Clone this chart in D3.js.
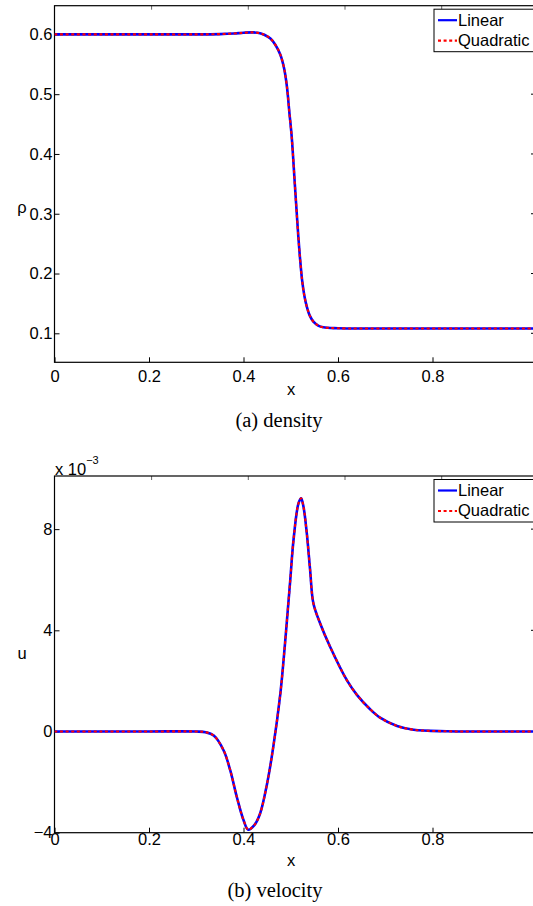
<!DOCTYPE html>
<html lang="en">
  <head>
    <meta charset="utf-8" />
    <title>Density and velocity</title>
    <script src="https://cdn.jsdelivr.net/npm/d3@7"></script>
    <style>
      body { margin: 0; background: #fff; }
      text { font-family: Helvetica, Arial, "Liberation Sans", sans-serif; font-size: 16.5px; fill: #000; }
      .caption { font-family: "Liberation Serif", "Times New Roman", serif; font-size: 20.5px; }
    </style>
  </head>

  <body>
    <script>
      // data
      const seriesNames = ["Linear", "Quadratic"];
      const xTicks = [0, 0.2, 0.4, 0.6, 0.8];

      const rhoX = [0, 0.1, 0.2, 0.3, 0.35, 0.38, 0.4, 0.42, 0.435, 0.445, 0.457, 0.467, 0.478, 0.486,
        0.492, 0.497, 0.502, 0.509, 0.516, 0.52, 0.524, 0.529, 0.534, 0.54, 0.548, 0.558, 0.569, 0.6,
        0.7, 0.8, 0.9, 1.03];
      const rhoLinear = [0.6, 0.6, 0.6, 0.6, 0.6005, 0.6015, 0.6027, 0.6033, 0.602, 0.599, 0.593, 0.583,
        0.566, 0.543, 0.512, 0.47, 0.429, 0.345, 0.262, 0.222, 0.189, 0.162, 0.1445, 0.13, 0.1194, 0.113,
        0.110, 0.1085, 0.108, 0.108, 0.108, 0.108];
      // the quadratic curve lies on top of the linear one
      const rhoQuadratic = rhoLinear.slice();
      const rhoTicks = [0.1, 0.2, 0.3, 0.4, 0.5, 0.6];

      // velocity in units of 1e-3
      const uX = [0, 0.1, 0.2, 0.3, 0.32, 0.337, 0.358, 0.372, 0.386, 0.4, 0.41, 0.423, 0.435, 0.4495,
        0.4635, 0.478, 0.4847, 0.492, 0.499, 0.506, 0.5165, 0.522, 0.527, 0.534, 0.541, 0.548, 0.5623,
        0.5835, 0.619, 0.64, 0.668, 0.689, 0.725, 0.76, 0.83, 0.9, 1.03];
      const uLinear = [0, 0, 0, 0, -0.03, -0.16, -0.75, -1.54, -2.6, -3.5, -3.88, -3.7, -3.25, -2.1,
        -0.55, 1.5, 2.8, 4.4, 6.0, 7.6, 9.03, 9.22, 8.88, 7.83, 6.38, 5.06, 4.27, 3.34, 2.02, 1.45,
        0.88, 0.55, 0.22, 0.07, 0.01, 0, 0];
      const uQuadratic = uLinear.slice();
      const uTicks = [-4, 0, 4, 8];

      const svg = d3.select("body").append("svg")
        .attr("width", 533)
        .attr("height", 906);

      const x = d3.scaleLinear().domain([0, 1]).range([54.5, 527]);
      // the top frame ticks come out slightly stretched in the original
      const xTop = d3.scaleLinear().domain([0, 1]).range([54.9, 538.4]);
      const frameRight = 536;

      function panel(opt) {
        const y = d3.scaleLinear().domain(opt.yDomain).range([opt.bottom, opt.top]);
        const g = svg.append("g");

        g.append("clipPath").attr("id", opt.id)
          .append("rect")
          .attr("x", x(0)).attr("y", opt.top)
          .attr("width", frameRight - x(0)).attr("height", opt.bottom - opt.top);

        // y axis, ticks inward
        g.append("g")
          .attr("transform", `translate(${x(0)},0)`)
          .call(d3.axisLeft(y).tickValues(opt.yTicks).tickFormat(opt.yFormat)
            .tickSizeInner(-5).tickSizeOuter(0).tickPadding(2))
          .call(a => a.select(".domain").remove())
          .call(a => a.selectAll("text").style("font-family", null).attr("font-size", null));

        // right side ticks
        g.append("g").selectAll("line")
          .data(opt.yTicks).enter().append("line")
          .attr("x1", frameRight - 5).attr("x2", frameRight)
          .attr("y1", d => y(d)).attr("y2", d => y(d))
          .attr("stroke", "#000");

        // x axis
        g.append("g")
          .attr("transform", `translate(0,${opt.bottom})`)
          .call(d3.axisBottom(x).tickValues(xTicks).tickFormat(d => d)
            .tickSizeInner(-5).tickSizeOuter(0).tickPadding(opt.xPad))
          .call(a => a.select(".domain").remove())
          .call(a => a.selectAll("text").style("font-family", null).attr("font-size", null));

        g.append("g").selectAll("line")
          .data(xTicks.slice(1)).enter().append("line")
          .attr("x1", d => xTop(d)).attr("x2", d => xTop(d))
          .attr("y1", opt.top).attr("y2", opt.top + 4)
          .attr("stroke", "#666");

        // frame
        g.append("rect")
          .attr("x", x(0)).attr("y", opt.top)
          .attr("width", frameRight - x(0)).attr("height", opt.bottom - opt.top)
          .attr("fill", "none").attr("stroke", "#000").attr("stroke-width", 1.2);

        const line = d3.line()
          .x(d => x(d[0]))
          .y(d => y(d[1]))
          .curve(d3.curveCatmullRom.alpha(0.5));

        const curves = g.append("g").attr("clip-path", `url(#${opt.id})`);
        curves.append("path")
          .attr("d", line(d3.zip(opt.xs, opt.lin)))
          .attr("fill", "none").attr("stroke", "#0000ff").attr("stroke-width", 2.6);
        curves.append("path")
          .attr("d", line(d3.zip(opt.xs, opt.quad)))
          .attr("fill", "none").attr("stroke", "#ff0000").attr("stroke-width", 2.1)
          .attr("stroke-dasharray", "3,2.6");

        // legend
        const lg = g.append("g").attr("transform", `translate(434,${opt.top + 3.5})`);
        lg.append("rect")
          .attr("width", 120).attr("height", 42.5)
          .attr("fill", "#fff").attr("stroke", "#000").attr("stroke-width", 1);
        lg.selectAll(".key")
          .data(seriesNames).enter().append("line")
          .attr("x1", 4).attr("x2", 23)
          .attr("y1", (d, i) => 11 + i * 20.5).attr("y2", (d, i) => 11 + i * 20.5)
          .attr("stroke", (d, i) => i === 0 ? "#0000ff" : "#ff0000")
          .attr("stroke-width", 2.2)
          .attr("stroke-dasharray", (d, i) => i === 0 ? null : "3,2.6");
        lg.selectAll("text")
          .data(seriesNames).enter().append("text")
          .attr("x", 24)
          .attr("y", (d, i) => 16.8 + i * 19.7)
          .text(d => d);

        // labels
        g.append("text")
          .attr("x", 291).attr("y", opt.xLabelY)
          .attr("text-anchor", "middle").text("x");
        g.append("text")
          .attr("x", 22).attr("y", opt.yLabelY)
          .attr("text-anchor", "middle").attr("font-size", "17px").text(opt.yLabel);
        g.append("text")
          .attr("class", "caption")
          .attr("x", opt.capX).attr("y", opt.capY)
          .attr("text-anchor", "middle").text(opt.caption);
        return g;
      }

      panel({
        id: "clipA", top: 5.7, bottom: 362.3, yDomain: [0.0515, 0.648],
        yTicks: rhoTicks, yFormat: d3.format(".1f"), xPad: 8,
        xs: rhoX, lin: rhoLinear, quad: rhoQuadratic,
        xLabelY: 395, yLabel: "ρ", yLabelY: 213,
        caption: "(a) density", capX: 279, capY: 427
      });

      const b = panel({
        id: "clipB", top: 476, bottom: 832.7, yDomain: [-4, 10.1],
        yTicks: uTicks, yFormat: d3.format("d"), xPad: 1,
        xs: uX, lin: uLinear, quad: uQuadratic,
        xLabelY: 866, yLabel: "u", yLabelY: 659,
        caption: "(b) velocity", capX: 275, capY: 897
      });

      // exponent above the velocity axis
      const expo = b.append("text").attr("x", 55).attr("y", 475);
      expo.append("tspan").text("x 10");
      expo.append("tspan").attr("font-size", "11px").attr("dy", -11).text("−3");
    </script>
  </body>
</html>
